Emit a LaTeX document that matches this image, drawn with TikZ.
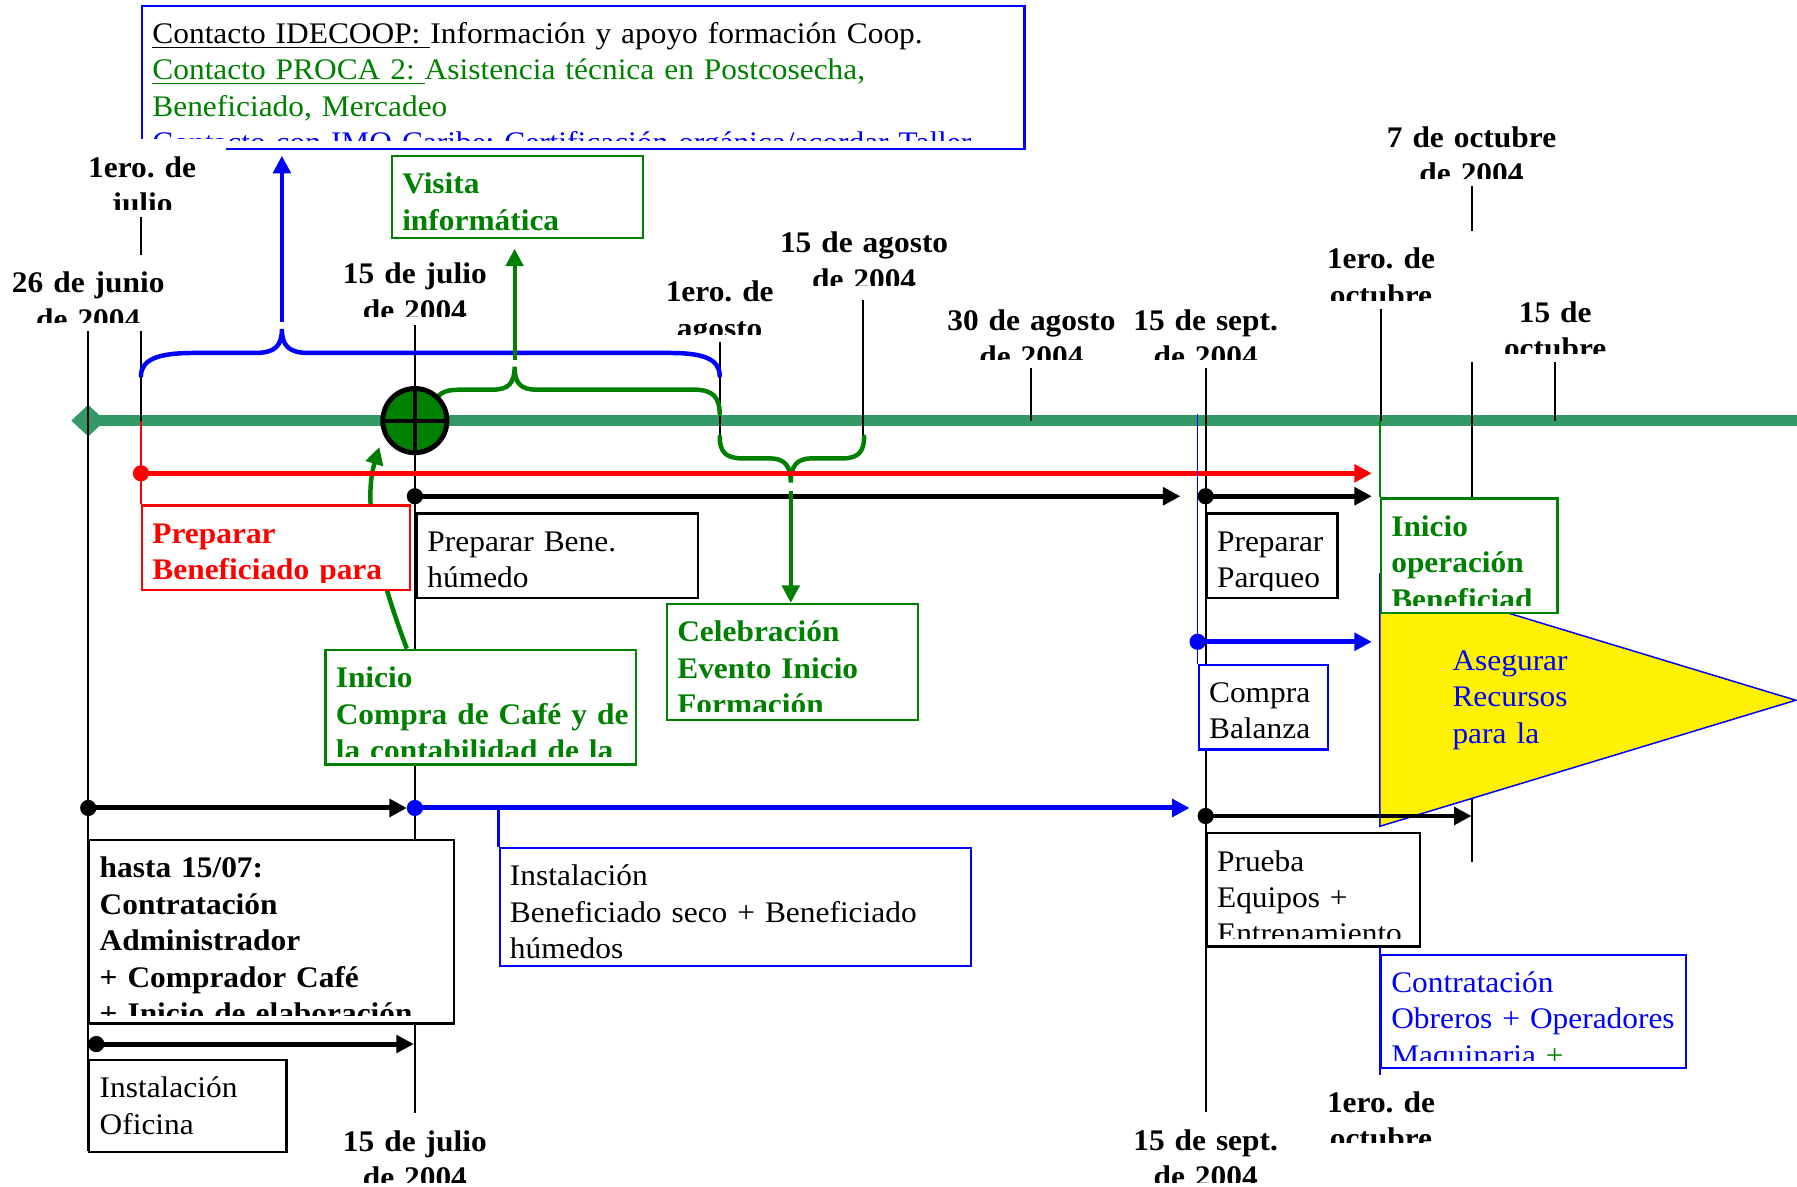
\documentclass[tikz,border=0pt]{standalone}
\usepackage{fontspec}
\setmainfont[FakeStretch=1.05]{Liberation Serif}
\usetikzlibrary{arrows.meta,shapes.geometric}
\definecolor{tlgreen}{RGB}{51,153,102}
\definecolor{dkgreen}{RGB}{0,128,0}
\newcommand{\px}{0.46pt}
\newcommand{\tfont}{\fontsize{12}{14.6}\selectfont\frenchspacing}

\begin{document}
\begin{tikzpicture}[
  x=0.46pt, y=-0.46pt,
  font=\tfont,
  >={Triangle[length=7pt,width=7pt]},
  tick/.style={line width=0.8pt},
  timeline/.style={line width=4.7pt, tlgreen},
  tl/.style={line width=2pt, ->},
  dot/.style={circle, fill=#1, inner sep=0pt, minimum size=6.5pt},
  dot/.default=black,
  brace/.style={line width=1.8pt, line cap=round},
  tbox/.style={draw=#1, fill=white, line width=0.9pt, anchor=north west, inner sep=0pt},
  tbox/.default=black,
  datelab/.style={fill=white, anchor=north, inner sep=0pt},
  bsize/.style 2 args={minimum width=#1*\px, minimum height=#2*\px},
  boxtxt/.style 2 args={path picture={
    \clip ([yshift=3.2pt]path picture bounding box.south west) rectangle (path picture bounding box.north east);
    \node[anchor=base west, inner sep=0pt, text width=500pt, align=left, font=\tfont, text=#1]
      at ([xshift=3.7pt,yshift=-15.2pt]path picture bounding box.north west) {#2};}},
  labtxt/.style={path picture={
    \clip ([yshift=3.2pt]path picture bounding box.south west) rectangle (path picture bounding box.north east);
    \node[anchor=base, inner sep=0pt, text width=200pt, align=center, font=\tfont]
      at ([yshift=-15.2pt]path picture bounding box.north) {\bfseries #1};}},
]
\useasboundingbox (0,0) rectangle (1568,1035);

% time line
\node[diamond, fill=tlgreen, inner sep=0pt, minimum width=30*\px, minimum height=28*\px] (start) at (77,367) {};
\coordinate (tlend) at (1568,367);
\draw[timeline] (start.center) -- (tlend);

\foreach \x/\ya/\yb in {77/288/1004, 123/188/367, 362/282/972, 628/297/381, 753/262/381,
  900/321/367, 1052/321/970, 1205/268/367, 1284/162/752, 1357/316/367} {
  \draw[tick] (\x,\ya) -- (\x,\yb);
}

% braces
\draw[brace, blue] (123,328) .. controls (123,313) and (140,308) .. (168,308) -- (222,308)
  .. controls (240,308) and (246,302) .. (246,287) .. controls (246,302) and (252,308) .. (270,308)
  -- (585,308) .. controls (613,308) and (628,313) .. (628,328);
\draw[brace, dkgreen] (380,349) .. controls (384,342) and (390,340) .. (402,340) -- (430,340)
  .. controls (444,340) and (449,334) .. (449,320) .. controls (449,334) and (454,340) .. (468,340)
  -- (606,340) .. controls (622,340) and (628,347) .. (628,361);
\draw[brace, dkgreen] (628,381) .. controls (628,394) and (633,400) .. (648,400) -- (672,400)
  .. controls (685,400) and (690,407) .. (690,421) .. controls (690,407) and (695,400) .. (708,400)
  -- (735,400) .. controls (749,400) and (754,394) .. (754,381);

\node[circle, draw, line width=2pt, fill=dkgreen, minimum size=56*\px, inner sep=0pt,
  path picture={\draw[line width=1.6pt] (path picture bounding box.west) -- (path picture bounding box.east)
    (path picture bounding box.north) -- (path picture bounding box.south);}] (junction) at (362,367) {};

% yellow triangle
\fill[yellow] (1204,501) -- (1567,611) -- (1204,721) -- cycle;
\draw[blue, line width=0.6pt] (1204,501) -- (1567,611) -- (1204,721) -- cycle;
\node[anchor=base west, inner sep=0pt, text width=120pt, align=left, text=blue] (recursos) at (1267,585)
  {Asegurar\\Recursos\\para la};

% boxes
\node[tbox=blue, bsize={770}{125}, boxtxt={black}{\underline{Contacto IDECOOP: }Información y apoyo formación Coop.\\
  \color{dkgreen}\underline{Contacto PROCA 2: }Asistencia técnica en Postcosecha,\\Beneficiado, Mercadeo\\
  \color{blue}Contacto con IMO Caribe: Certificación orgánica/acordar Taller}] (info) at (123,4) {};
\node[tbox=dkgreen, bsize={219}{72}, boxtxt={dkgreen}{\bfseries Visita\\informática}] (visita) at (341,135) {};
\node[tbox=dkgreen, bsize={271}{100}, boxtxt={dkgreen}{\bfseries Inicio\\Compra de Café y de\\la contabilidad de la}] (compra) at (283,566) {};
\coordinate (jtip) at (331,390);
\draw[dkgreen, line width=1.8pt, ->] (compra.north -| 355,0) .. controls (330,500) and (316,440) .. (jtip);
\node[tbox=red, bsize={234}{74}, boxtxt={red}{\bfseries Preparar\\Beneficiado para}] (prep) at (123,440) {};
\node[tbox, bsize={245}{74}, boxtxt={black}{Preparar Bene.\\húmedo}] (bene) at (363,447) {};
\node[tbox=dkgreen, bsize={219}{101}, boxtxt={dkgreen}{\bfseries Celebración\\Evento Inicio\\Formación}] (celeb) at (581,526) {};
\node[tbox, bsize={114}{74}, boxtxt={black}{Preparar\\Parqueo}] (parqueo) at (1052,447) {};
\node[tbox=dkgreen, bsize={154}{100}, boxtxt={dkgreen}{\bfseries Inicio\\operación\\Beneficiad}] (operacion) at (1204,434) {};
\node[tbox=blue, bsize={113}{74}, boxtxt={black}{Compra\\Balanza}] (balanza) at (1045,579) {};
\node[tbox, bsize={318}{160}, boxtxt={black}{\bfseries hasta 15/07:\\Contratación\\Administrador\\+ Comprador Café\\+ Inicio de elaboración}] (hasta) at (77,732) {};
\node[tbox=blue, bsize={411}{103}, boxtxt={black}{Instalación\\Beneficiado seco + Beneficiado\\húmedos}] (instal) at (435,739) {};
\node[tbox, bsize={172}{80}, boxtxt={black}{Instalación\\Oficina}] (oficina) at (77,924) {};
\node[tbox, bsize={186}{99}, boxtxt={black}{Prueba\\Equipos +\\Entrenamiento}] (prueba) at (1052,726) {};
\node[tbox=blue, bsize={266}{99}, boxtxt={blue}{Contratación\\Obreros + Operadores\\Maquinaria {\color{dkgreen}+}}] (contrat) at (1204,832) {};

% date labels
\node[datelab, bsize={150}{66}, labtxt={26 de junio\\de 2004}] (jun26) at (77,222) {};
\node[datelab, bsize={146}{68}, labtxt={1ero. de\\julio}] (jul1) at (124,121) {};
\node[datelab, bsize={150}{69}, labtxt={15 de julio\\de 2004}] (jul15) at (362,214) {};
\node[datelab, bsize={150}{68}, labtxt={1ero. de\\agosto}] (ago1) at (628,230) {};
\node[datelab, bsize={150}{69}, labtxt={15 de agosto\\de 2004}] (ago15) at (754,187) {};
\node[datelab, bsize={150}{65}, labtxt={30 de agosto\\de 2004}] (ago30) at (900,255) {};
\node[datelab, bsize={150}{65}, labtxt={15 de sept.\\de 2004}] (sep15) at (1052,255) {};
\node[datelab, bsize={170}{68}, labtxt={1ero. de\\octubre}] (oct1) at (1205,201) {};
\node[datelab, bsize={156}{67}, labtxt={7 de octubre\\de 2004}] (oct7) at (1284,95) {};
\node[datelab, bsize={160}{67}, labtxt={15 de\\octubre}] (oct15) at (1357,248) {};
\node[datelab, bsize={150}{67}, labtxt={15 de julio\\de 2004}] (jul15b) at (362,971) {};
\node[datelab, bsize={150}{68}, labtxt={15 de sept.\\de 2004}] (sep15b) at (1052,970) {};
\node[datelab, bsize={150}{66}, labtxt={1ero. de\\octubre}] (oct1b) at (1205,937) {};

% task arrows
\foreach \n/\c/\xa/\ya/\xb in {r/red/123/413/1197, ba/black/362/433/1030, bb/black/1052/433/1197,
  ua/blue/1045/560/1197, bc/black/77/705/355, ub/blue/362/705/1038, bd/black/1052/712/1284,
  be/black/84/911/361} {
  \node[dot=\c] (\n s) at (\xa,\ya) {};
  \coordinate (\n e) at (\xb,\ya);
  \draw[tl, \c] (\n s.center) -- (\n e);
}

% links
\coordinate (bluetip) at (246,281);
\coordinate (greentip) at (449,314);
\coordinate (greenbot) at (690,428);
\draw[blue, line width=1.6pt, ->] (bluetip) -- ([yshift=-2.3pt]bluetip |- info.south);
\draw[dkgreen, line width=1.6pt, ->] (greentip) -- ([yshift=-3.7pt]greentip |- visita.south);
\draw[dkgreen, line width=1.6pt, ->] (greenbot) -- (greenbot |- celeb.north);
\draw[red, line width=0.7pt] (rs |- start) -- (prep.north west);
\draw[dkgreen, line width=0.7pt] (operacion.north west |- start) -- (operacion.north west);
\draw[blue, line width=0.7pt] (1045,361) -- (balanza.north west);
\draw[blue, line width=1.3pt] (ubs -| instal.north west) -- (instal.north west);
\draw[blue, line width=0.9pt] ([yshift=2.8pt]contrat.north west) -- ([yshift=-2.3pt]contrat.south west);
\end{tikzpicture}
\end{document}
